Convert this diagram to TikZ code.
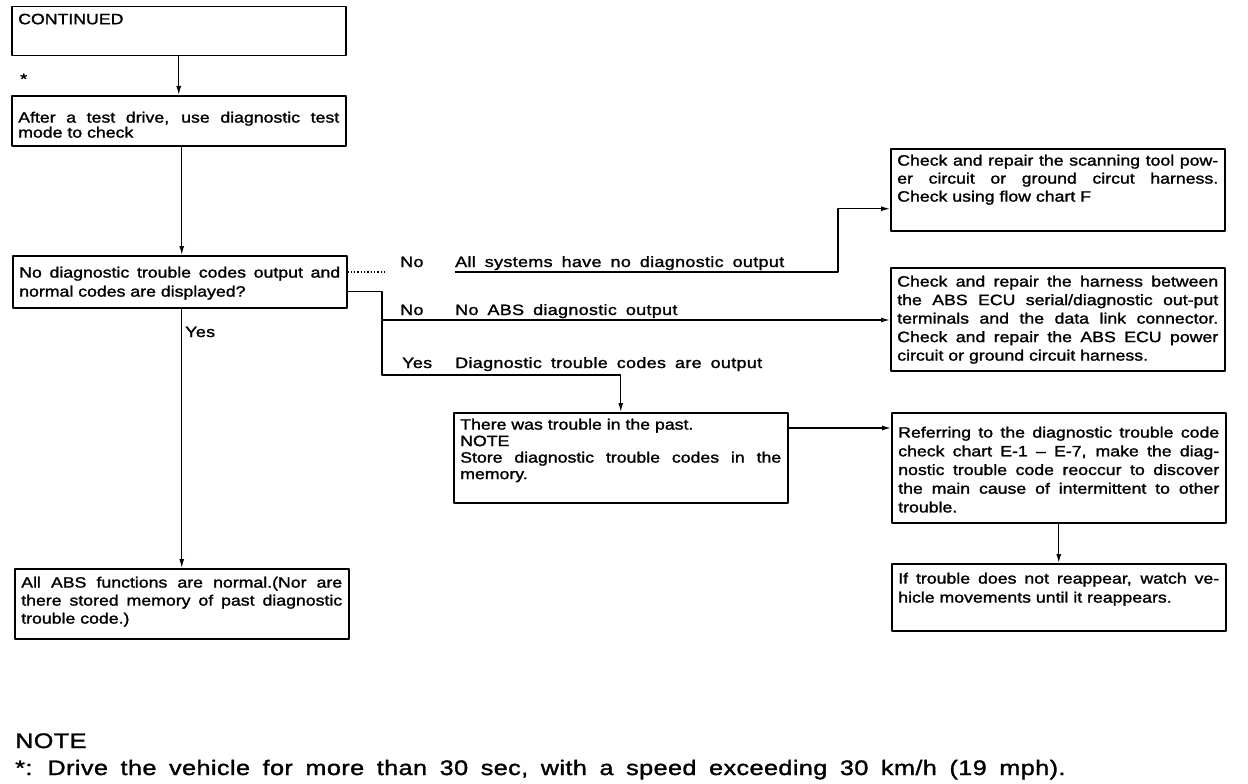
\documentclass[tikz,border=0pt]{standalone}
\usepackage{fontspec}
\setmainfont{Liberation Sans}[FakeStretch=1.18, FakeBold=1.5]
\newfontfamily\lblfont{Liberation Sans}[FakeStretch=1.2, LetterSpace=2, WordSpace=1.7, FakeBold=1.5]
\usetikzlibrary{arrows.meta,positioning}

% text of a step box: [baselineskip]{height}{top gap}{text}
\newcommand{\steptext}[4][18pt]{\parbox[t][#2pt][t]{321pt}{\sloppy\hyphenpenalty=10000\exhyphenpenalty=10000\baselineskip=#1\vspace*{#3pt}#4\par}}

\tikzset{
  stepbox/.style={draw, line width=1.5pt, anchor=north west, inner xsep=6.5pt, inner ysep=0pt, font=\fontsize{15}{18}\selectfont},
  lbl/.style={anchor=base west, inner sep=0pt, font=\fontsize{15}{18}\lblfont},
  note/.style={anchor=base west, inner sep=0pt, font=\fontsize{21}{24}\lblfont},
  link/.style={line width=1.3pt},
}

\begin{document}
\begin{tikzpicture}[x=1pt, y=-1pt, line join=round, >={Latex[length=9pt,width=5pt]}]
  \useasboundingbox (0,0) rectangle (1248,784);
  % left column
  \node[stepbox] (cont) at (11,6) {\steptext{49}{7}{CONTINUED}};
  \node[stepbox] (drive) at (11,95) {\steptext[15pt]{50}{16}{After a test drive, use diagnostic test\linebreak mode to check}};
  \node[stepbox] (quest) at (12,255) {\steptext[19pt]{52}{11}{No diagnostic trouble codes output and\linebreak normal codes are displayed?}};
  \node[stepbox] (allabs) at (14,568) {\steptext{70}{8}{All ABS functions are normal.(Nor are\linebreak there stored memory of past diagnostic\linebreak trouble code.)}};
  % middle and right
  \node[stepbox] (trouble) at (453,412) {\steptext[16.5pt]{90}{6}{There was trouble in the past.\\NOTE\\Store diagnostic trouble codes in the\linebreak memory.}};
  \node[stepbox] (scan) at (890,148) {\steptext{82}{6}{Check and repair the scanning tool pow-\linebreak er circuit or ground circut harness.\linebreak Check using flow chart F}};
  \node[stepbox] (harness) at (890,267) {\steptext[18.5pt]{103}{8}{Check and repair the harness between\linebreak the ABS ECU serial/diagnostic out-put\linebreak terminals and the data link connector.\linebreak Check and repair the ABS ECU power\linebreak circuit or ground circuit harness.}};
  \node[stepbox] (refer) at (891,412) {\steptext[18.7pt]{110}{14}{Referring to the diagnostic trouble code\linebreak check chart E-1 – E-7, make the diag-\linebreak nostic trouble code reoccur to discover\linebreak the main cause of intermittent to other\linebreak trouble.}};
  \node[stepbox] (watch) at (891,563) {\steptext[19pt]{67}{9}{If trouble does not reappear, watch ve-\linebreak hicle movements until it reappears.}};

  % branch labels
  \node[lbl] (star) at (20,84) {*};
  \node[lbl] (yes1) at (185,337) {Yes};
  \node[lbl] (no1) at (400,267) {No};
  \node[lbl] (no1txt) at (455,267) {All systems have no diagnostic output};
  \node[lbl] (no2) at (400,315) {No};
  \node[lbl] (no2txt) at (455,315) {No ABS diagnostic output};
  \node[lbl] (yes2) at (402,368) {Yes};
  \node[lbl] (yes2txt) at (455,368) {Diagnostic trouble codes are output};

  \coordinate (dotend) at (384,272);
  \coordinate (nostart) at (455,272);
  \coordinate (up) at (838,272);
  \coordinate (split) at (382,320);
  \coordinate (trunk) at (382,375);

  % connectors
  \draw[link,->] (cont.south) -- (drive.north);
  \draw[link,->] (drive.south -| allabs.north) -- (quest.north -| allabs.north);
  \draw[link,->] (quest.south -| allabs.north) -- (allabs.north);
  \draw[link,dotted] (quest.east |- dotend) -- (dotend);
  \draw[link,->] (nostart) -- (up) |- ([yshift=-19pt]scan.west);
  \draw[link,->] ([yshift=-10pt]quest.east) -| (trunk) -| (trouble.north);
  \draw[link,->] (split) -- (split -| harness.west);
  \draw[link,->] ([yshift=-16pt]trouble.north east) -- ([yshift=-16pt]trouble.north east -| refer.west);
  \draw[link,->] (refer.south) -- (watch.north);

  % footnote
  \node[note] (notehead) at (15,748) {NOTE};
  \node[note] (notetext) at (15,775) {*: Drive the vehicle for more than 30 sec, with a speed exceeding 30 km/h (19 mph).};
\end{tikzpicture}
\end{document}
